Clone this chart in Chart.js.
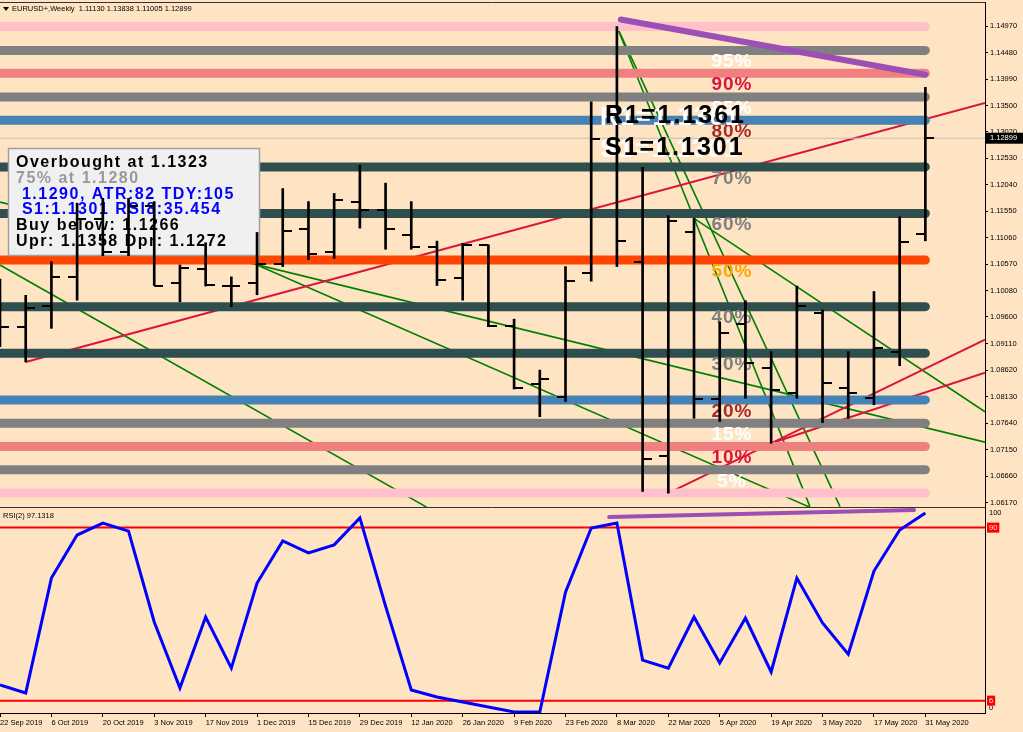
<!DOCTYPE html>
<html><head><meta charset="utf-8">
<script src="https://cdn.jsdelivr.net/npm/chart.js@4/dist/chart.umd.min.js"></script>
<style>html,body{margin:0;padding:0;background:#FFE4C4;overflow:hidden}</style>
</head><body>
<canvas id="c" width="1023" height="732"></canvas>
<script>
// ---- data ----
const weekLabels = ['22 Sep 2019','29 Sep 2019','6 Oct 2019','13 Oct 2019','20 Oct 2019','27 Oct 2019','3 Nov 2019','10 Nov 2019','17 Nov 2019','24 Nov 2019','1 Dec 2019','8 Dec 2019','15 Dec 2019','22 Dec 2019','29 Dec 2019','5 Jan 2020','12 Jan 2020','19 Jan 2020','26 Jan 2020','2 Feb 2020','9 Feb 2020','16 Feb 2020','23 Feb 2020','1 Mar 2020','8 Mar 2020','15 Mar 2020','22 Mar 2020','29 Mar 2020','5 Apr 2020','12 Apr 2020','19 Apr 2020','26 Apr 2020','3 May 2020','10 May 2020','17 May 2020','24 May 2020','31 May 2020'];
const xTickIndex = [0,2,4,6,8,10,12,14,16,18,20,22,24,26,28,30,32,34,36];
const openP  = [1.1017,1.0942,1.0981,1.1033,1.1140,1.1079,1.1165,1.1023,1.1048,1.1017,1.1022,1.1058,1.1122,1.1079,1.1173,1.1157,1.1111,1.1089,1.1032,1.1093,1.0944,1.0837,1.0813,1.1041,1.1288,1.1061,1.0703,1.1116,1.0808,1.0947,1.0865,1.0820,1.0967,1.0828,1.0810,1.0896,1.11130];
const highP  = [1.1030,1.1000,1.1062,1.1170,1.1179,1.1179,1.1173,1.1056,1.1097,1.1034,1.1116,1.1197,1.1173,1.1188,1.1240,1.1207,1.1173,1.1100,1.1096,1.1093,1.0956,1.0862,1.1053,1.1357,1.1496,1.1236,1.1147,1.1142,1.0951,1.0990,1.0896,1.1017,1.0973,1.0896,1.1007,1.1145,1.13838];
const lowP   = [1.0905,1.0877,1.0939,1.0991,1.1073,1.1073,1.1018,1.0988,1.1017,1.0979,1.1001,1.1053,1.1066,1.1068,1.1124,1.1085,1.1085,1.1018,1.0991,1.0942,1.0827,1.0776,1.0804,1.1026,1.1053,1.0638,1.0635,1.0773,1.0767,1.0810,1.0727,1.0810,1.0765,1.0773,1.0798,1.0870,1.11005];
const closeP = [1.0942,1.0976,1.1034,1.1140,1.1079,1.1165,1.1018,1.1051,1.1019,1.1017,1.1058,1.1119,1.1076,1.1175,1.1157,1.1122,1.1089,1.1028,1.1092,1.0944,1.0828,1.0845,1.1027,1.1288,1.1101,1.0697,1.1138,1.0808,1.0930,1.0875,1.0825,1.0980,1.0839,1.0819,1.0902,1.1099,1.12899];
const rsi2   = [13.6,9.7,65.5,86.4,92.2,88.3,44.2,12.1,46.6,21.8,63.1,83.5,77.7,81.6,94.7,51.9,11.2,7.8,5.3,2.9,0.5,0.5,58.7,89.8,92.2,25.7,21.8,46.6,24.3,46.1,19.9,65.5,43.7,28.6,68.9,88.8,97.1318];
const priceTicks = [1.06170,1.06660,1.07150,1.07640,1.08130,1.08620,1.09110,1.09600,1.10080,1.10570,1.11060,1.11550,1.12040,1.12530,1.13020,1.13500,1.13990,1.14480,1.14970];
const bandLevels = [1.1496,1.1452,1.1410,1.1366,1.1323,1.1237,1.1151,1.1065,1.0979,1.0893,1.0807,1.0764,1.0721,1.0678,1.0635];
const bandColors = ['#FFC0CB','#808080','#F08080','#808080','#4682B4','#2F4F4F','#2F4F4F','#FF4500','#2F4F4F','#2F4F4F','#4682B4','#808080','#F08080','#808080','#FFC0CB'];
const pctLabels = ['95%','90%','85%','80%','70%','60%','50%','40%','30%','20%','15%','10%','5%'];
const pctLevels = [1.1452,1.1410,1.1366,1.1323,1.1237,1.1151,1.1065,1.0979,1.0893,1.0807,1.0764,1.0721,1.0678];
const pctColors = ['#FFFFFF','#DC143C','#FFFFFF','#A52A2A','#808080','#808080','#FFA500','#808080','#808080','#A52A2A','#FFFFFF','#DC143C','#FFFFFF'];
const redLines = [[[1,1.0877],[38.32,1.1355]],[[26,1.0635],[38.32,1.0918]],[[30,1.0727],[38.32,1.0857]]];
const greenLines = [[[0,1.1172],[38.32,1.0729]],[[10,1.1056],[31.5,1.0609]],[[0,1.1056],[16.6,1.0609]],[[27,1.1142],[38.32,1.0785]],[[24,1.1496],[31.51,1.0610]],[[24,1.1496],[32.68,1.0610]]];
const purplePrice = [[24.15,1.1509],[36,1.1407]];
const purpleRsi = [[23.7,95.1],[35.56,98.5]];
const rsiLevels = [90,6];
const infoLines = ['Overbought at 1.1323','75% at 1.1280',' 1.1290, ATR:82 TDY:105',' S1:1.1301 RSI8:35.454','Buy below: 1.1266','Upr: 1.1358 Dpr: 1.1272'];
const infoColors = ['#000000','#999999','#0000FF','#0000FF','#000000','#000000'];
const pivotTexts = ['R1=1.1361','S1=1.1301'];
const headerText = 'EURUSD+,Weekly  1.11130 1.13838 1.11005 1.12899';
const rsiTitle = 'RSI(2) 97.1318';

// ---- tick images for open / close ----
function tickCanvas(left){const c=document.createElement('canvas');c.width=18;c.height=2;const g=c.getContext('2d');g.fillStyle='#000';g.fillRect(left?0:9,0,9,2);return c;}
const openImg = tickCanvas(true), closeImg = tickCanvas(false);

const F = '"Liberation Sans", Arial, sans-serif';
const datasets = [];
const pts = a => a.map(p => ({x:p[0], y:p[1]}));
redLines.forEach(l => datasets.push({type:'line', data:pts(l), borderColor:'#DC143C', borderWidth:2, pointRadius:0, yAxisID:'yP', order:100}));
greenLines.forEach(l => datasets.push({type:'line', data:pts(l), borderColor:'#008000', borderWidth:1.6, pointRadius:0, yAxisID:'yP', order:100}));
bandLevels.forEach((v,i) => datasets.push({type:'line', data:[{x:-1,y:v},{x:36,y:v}], borderColor:bandColors[i], borderWidth:9, borderCapStyle:'round', pointRadius:0, yAxisID:'yP', order:90}));
datasets.push({type:'line', data:[{x:-1,y:closeP[36]},{x:40,y:closeP[36]}], borderColor:'#C0C0C0', borderWidth:1, pointRadius:0, yAxisID:'yP', order:88});
datasets.push({type:'line', data:pts(purplePrice), borderColor:'#9C4FB4', borderWidth:6, borderCapStyle:'round', pointRadius:0, yAxisID:'yP', order:85});
datasets.push({id:'hl', type:'bar', data:highP.map((h,i)=>({x:i, y:[lowP[i], h]})), backgroundColor:'#000', borderWidth:0, barThickness:2, yAxisID:'yP', order:50});
datasets.push({type:'line', showLine:false, data:openP.map((v,i)=>({x:i,y:v})), pointStyle:openImg, pointRadius:5, yAxisID:'yP', order:49});
datasets.push({type:'line', showLine:false, data:closeP.map((v,i)=>({x:i,y:v})), pointStyle:closeImg, pointRadius:5, yAxisID:'yP', order:48});
rsiLevels.forEach(v => datasets.push({type:'line', data:[{x:-1,y:v},{x:40,y:v}], borderColor:'#FF0000', borderWidth:2, pointRadius:0, yAxisID:'yR', order:30}));
datasets.push({type:'line', data:pts(purpleRsi), borderColor:'#9C4FB4', borderWidth:4, borderCapStyle:'round', pointRadius:0, yAxisID:'yR', order:29});
datasets.push({type:'line', data:rsi2.map((v,i)=>({x:i,y:v})), borderColor:'#0000FF', borderWidth:3, pointRadius:0, tension:0, yAxisID:'yR', order:20});

function drawMid(chart){
  const ctx = chart.ctx, y = chart.scales.yP;
  ctx.save();
  ctx.fillStyle = '#F0F0F0'; ctx.fillRect(8,148,252,108);
  ctx.strokeStyle = '#A0A0A0'; ctx.lineWidth = 1.5; ctx.strokeRect(8.5,148.5,251,107);
  ctx.font = 'bold 16px ' + F; ctx.letterSpacing = '1.5px'; ctx.textAlign = 'left'; ctx.textBaseline = 'alphabetic';
  infoLines.forEach((t,i) => { ctx.fillStyle = infoColors[i]; ctx.fillText(t, 16, 167 + i*15.8); });
  ctx.font = 'bold 19px ' + F; ctx.letterSpacing = '1px'; ctx.textAlign = 'center'; ctx.textBaseline = 'middle';
  pctLabels.forEach((t,i) => { ctx.fillStyle = pctColors[i]; ctx.fillText(t, 732, y.getPixelForValue(pctLevels[i]) + 11.5); });
  ctx.restore();
}

const overlay = {
  id:'overlay',
  beforeDraw(chart){ const c=chart.ctx; c.save(); c.fillStyle='#FFE4C4'; c.fillRect(0,0,chart.width,chart.height); c.restore(); },
  beforeDatasetDraw(chart, args){
    const ds = chart.data.datasets[args.index];
    if (ds.id === 'hl') drawMid(chart);
    const ys = args.meta.yScale, a = chart.chartArea, c = chart.ctx;
    c.save(); c.beginPath(); c.rect(a.left, ys.top, a.right - a.left, ys.bottom - ys.top); c.clip();
  },
  afterDatasetDraw(chart){ chart.ctx.restore(); },
  afterDraw(chart){
    const c = chart.ctx, yP = chart.scales.yP, yR = chart.scales.yR, a = chart.chartArea;
    c.save();
    c.font = 'bold 25px ' + F; c.letterSpacing = '2px'; c.textAlign = 'left'; c.textBaseline = 'alphabetic';
    pivotTexts.forEach((t,i) => { const by = 123 + i*32; c.fillStyle = '#FFFFFF'; c.fillText(t, 600, by + 2); c.fillStyle = '#000'; c.fillText(t, 605, by); });
    c.letterSpacing = '0px';
    c.font = '7.5px ' + F; c.fillStyle = '#000'; c.textBaseline = 'middle';
    c.beginPath(); c.moveTo(3,7); c.lineTo(9,7); c.lineTo(6,11); c.closePath(); c.fill();
    c.fillText(headerText, 12, 9);
    c.fillText(rsiTitle, 3, yR.top + 9);
    c.strokeStyle = '#333'; c.lineWidth = 1;
    c.beginPath(); c.moveTo(0, a.top + 0.5); c.lineTo(a.right, a.top + 0.5); c.stroke();
    c.beginPath(); c.moveTo(0, yP.bottom + 0.5); c.lineTo(a.right, yP.bottom + 0.5); c.stroke();
    const py = yP.getPixelForValue(closeP[36]);
    c.fillStyle = '#000'; c.fillRect(a.right + 1, py - 5.5, 37, 11);
    c.fillStyle = '#FFF'; c.textAlign = 'left'; c.fillText(closeP[36].toFixed(5), a.right + 5, py);
    c.fillStyle = '#000';
    c.fillText('100', a.right + 4, yR.getPixelForValue(100) + 6);
    c.fillText('0', a.right + 4, yR.getPixelForValue(0) - 5);
    rsiLevels.forEach(v => {
      const ly = yR.getPixelForValue(v); const t = String(v); const w = c.measureText(t).width + 4;
      c.fillStyle = '#FF0000'; c.fillRect(a.right + 2, ly - 5, w, 10);
      c.fillStyle = '#FFE4E4'; c.fillText(t, a.right + 4, ly);
    });
    c.restore();
  }
};

new Chart(document.getElementById('c'), {
  type:'line',
  data:{datasets},
  plugins:[overlay],
  options:{
    responsive:false, animation:false, devicePixelRatio:1, events:[],
    layout:{autoPadding:false, padding:{top:2,left:0,right:0,bottom:0}},
    plugins:{legend:{display:false}, tooltip:{enabled:false}},
    scales:{
      x:{type:'linear', min:0, max:38.32, position:'bottom', offset:false,
        afterFit(s){ s.height = 19; s.paddingLeft = 0; s.paddingRight = 0; },
        afterBuildTicks(s){ s.ticks = xTickIndex.map(v => ({value:v})); },
        ticks:{autoSkip:false, maxRotation:0, minRotation:0, align:'start', padding:1, color:'#000', font:{family:F, size:7.5}, callback:v => weekLabels[v]},
        grid:{offset:false, drawOnChartArea:false, drawTicks:true, tickLength:4, color:'#000'},
        border:{display:true, color:'#000'}},
      yP:{type:'linear', position:'right', stack:'s', stackWeight:505, min:1.06093, max:1.15413, beginAtZero:false,
        afterFit(s){ s.width = 38; s.paddingTop = 0; s.paddingBottom = 0; },
        afterBuildTicks(s){ s.ticks = priceTicks.map(v => ({value:v})); },
        ticks:{padding:2, color:'#000', font:{family:F, size:7.5}, callback:v => Number(v).toFixed(5)},
        grid:{drawOnChartArea:false, drawTicks:true, tickLength:3, color:'#000'},
        border:{display:true, color:'#000'}},
      yR:{type:'linear', position:'right', stack:'s', stackWeight:206, min:0, max:100, beginAtZero:false,
        afterFit(s){ s.width = 38; s.paddingTop = 0; s.paddingBottom = 0; },
        ticks:{display:false}, grid:{display:false},
        border:{display:true, color:'#000'}}
    }
  }
});
</script>
</body></html>
